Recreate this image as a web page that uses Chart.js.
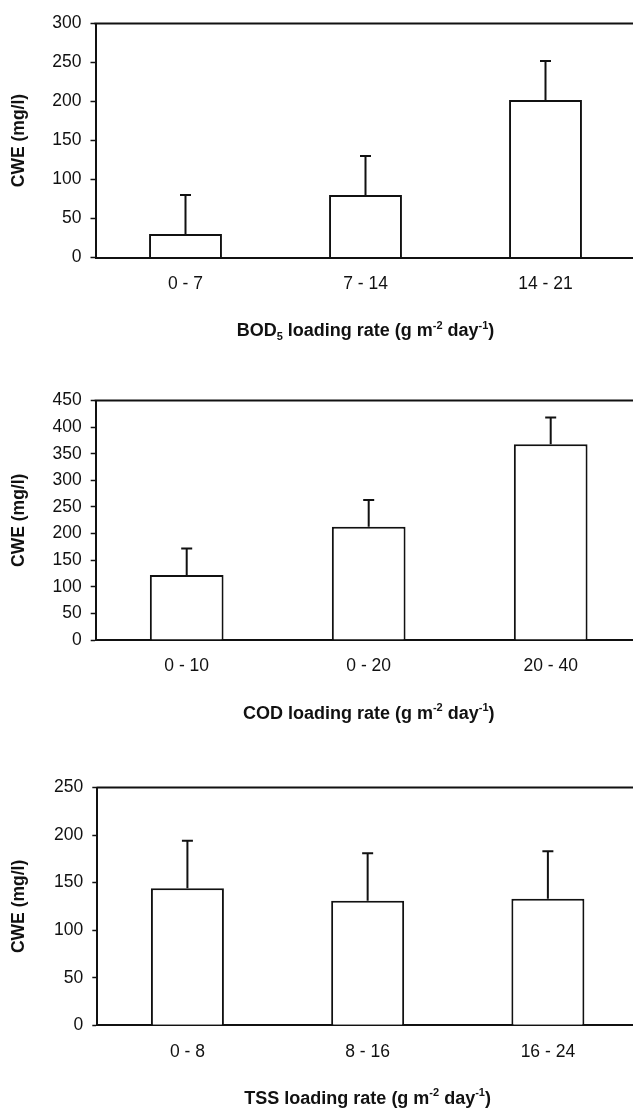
<!DOCTYPE html>
<html>
<head>
<meta charset="utf-8">
<title>CWE vs loading rate</title>
<script src="https://cdn.jsdelivr.net/npm/chart.js@4.4.1/dist/chart.umd.min.js"></script>
<style>
  html, body { margin: 0; padding: 0; background: #fff; }
  body { width: 633px; height: 1110px; position: relative; overflow: hidden; }
  canvas { position: absolute; left: 0; }
</style>
</head>
<body>
<canvas id="bod-chart"></canvas>
<canvas id="cod-chart"></canvas>
<canvas id="tss-chart"></canvas>
<script>
// Mean CWE for each loading-rate class, with the standard deviation drawn upward
const bodLabels = ['0 - 7', '7 - 14', '14 - 21'];
const bodMeans = [30, 80, 202];
const bodErrors = [50, 50, 50];

const codLabels = ['0 - 10', '0 - 20', '20 - 40'];
const codMeans = [122, 213, 368];
const codErrors = [50, 50, 50];

const tssLabels = ['0 - 8', '8 - 16', '16 - 24'];
const tssMeans = [144, 131, 133];
const tssErrors = [50, 50, 50];

const yTitle = 'CWE (mg/l)';
const yStep = 50;
const bodMax = 300;
const codMax = 450;
const tssMax = 250;

// x titles split into runs: [text, shift] with shift '', 'sub' or 'sup'
const bodTitle = [['BOD', ''], ['5', 'sub'], [' loading rate (g m', ''], ['-2', 'sup'], [' day', ''], ['-1', 'sup'], [')', '']];
const codTitle = [['COD loading rate (g m', ''], ['-2', 'sup'], [' day', ''], ['-1', 'sup'], [')', '']];
const tssTitle = [['TSS loading rate (g m', ''], ['-2', 'sup'], [' day', ''], ['-1', 'sup'], [')', '']];

const INK = '#111';
const FAMILY = "'Liberation Sans', Arial, sans-serif";

// upward error whiskers with a short cap
const errorBars = {
    id: 'errorBars',
    afterDatasetsDraw(chart, args, opts) {
        const ctx = chart.ctx;
        const y = chart.scales.y;
        const meta = chart.getDatasetMeta(0);
        const values = chart.data.datasets[0].data;
        ctx.save();
        ctx.strokeStyle = INK;
        ctx.lineWidth = 2;
        meta.data.forEach((bar, i) => {
            const base = y.getPixelForValue(values[i]);
            const top = y.getPixelForValue(values[i] + opts.errors[i]);
            ctx.beginPath();
            ctx.moveTo(bar.x, base);
            ctx.lineTo(bar.x, top);
            ctx.moveTo(bar.x - 5.5, top);
            ctx.lineTo(bar.x + 5.5, top);
            ctx.stroke();
        });
        ctx.restore();
    }
};

// top edge of the plot frame (left and bottom come from the axis borders)
const frameTop = {
    id: 'frameTop',
    afterDraw(chart) {
        const {ctx, chartArea} = chart;
        ctx.save();
        ctx.strokeStyle = INK;
        ctx.lineWidth = 2;
        ctx.beginPath();
        ctx.moveTo(chartArea.left - 1, chartArea.top);
        ctx.lineTo(chartArea.right + 10, chartArea.top);
        ctx.stroke();
        ctx.restore();
    }
};

// x axis title with sub- and superscripts
const richTitle = {
    id: 'richTitle',
    afterDraw(chart, args, opts) {
        const {ctx, chartArea} = chart;
        const mainFont = 'bold 18px ' + FAMILY;
        const smallFont = 'bold 11px ' + FAMILY;
        ctx.save();
        ctx.fillStyle = INK;
        ctx.textBaseline = 'middle';
        ctx.textAlign = 'left';
        let total = 0;
        opts.parts.forEach(([text, shift]) => {
            ctx.font = shift ? smallFont : mainFont;
            total += ctx.measureText(text).width;
        });
        const cy = chartArea.bottom + opts.offset;
        let x = (chartArea.left + chartArea.right) / 2 - total / 2;
        opts.parts.forEach(([text, shift]) => {
            ctx.font = shift ? smallFont : mainFont;
            let dy = 0;
            if (shift === 'sub') dy = 5;
            if (shift === 'sup') dy = -6;
            ctx.fillText(text, x, cy + dy);
            x += ctx.measureText(text).width;
        });
        ctx.restore();
    }
};

function renderPanel(id, labels, means, errors, yMax, titleParts, box) {
    const canvas = document.getElementById(id);
    const canvasTop = Math.floor(box.top - 15);
    const padTop = box.top - canvasTop;
    const width = 650;
    const height = Math.ceil(padTop + (box.bottom - box.top) + 92);
    canvas.width = width;
    canvas.height = height;
    canvas.style.width = width + 'px';
    canvas.style.height = height + 'px';
    canvas.style.top = canvasTop + 'px';
    const xHeight = height - padTop - (box.bottom - box.top);

    return new Chart(canvas.getContext('2d'), {
        type: 'bar',
        data: {
            labels: labels,
            datasets: [{
                data: means,
                backgroundColor: '#fff',
                borderColor: INK,
                borderWidth: 2,
                borderSkipped: 'start',
                barPercentage: 0.405,
                categoryPercentage: 1,
            }],
        },
        options: {
            responsive: false,
            animation: false,
            devicePixelRatio: 1,
            layout: {
                padding: { top: padTop, right: width - box.right, left: 0, bottom: 0 },
            },
            plugins: {
                legend: { display: false },
                tooltip: { enabled: false },
                errorBars: { errors: errors },
                richTitle: { parts: titleParts, offset: 74 },
            },
            scales: {
                x: {
                    grid: { display: false, drawTicks: false },
                    border: { display: true, color: INK, width: 2 },
                    ticks: {
                        color: INK,
                        padding: 16,
                        font: { family: FAMILY, size: 17.5 },
                    },
                    afterFit(scale) { scale.height = xHeight; },
                },
                y: {
                    min: 0,
                    max: yMax,
                    grid: {
                        drawOnChartArea: false,
                        drawTicks: true,
                        tickLength: 5,
                        tickColor: INK,
                        tickWidth: 1.5,
                    },
                    border: { display: true, color: INK, width: 2 },
                    ticks: {
                        stepSize: yStep,
                        color: INK,
                        padding: 9,
                        font: { family: FAMILY, size: 17.5 },
                    },
                    title: {
                        display: true,
                        text: yTitle,
                        color: INK,
                        padding: { top: 8.5, bottom: 0 },
                        font: { family: FAMILY, size: 17.5, weight: 'bold' },
                    },
                    afterFit(scale) { scale.width = box.left; },
                },
            },
        },
        plugins: [errorBars, frameTop, richTitle],
    });
}

renderPanel('bod-chart', bodLabels, bodMeans, bodErrors, bodMax, bodTitle,
    { left: 95.5, top: 19, bottom: 257.5, right: 635.5 });
renderPanel('cod-chart', codLabels, codMeans, codErrors, codMax, codTitle,
    { left: 95.7, top: 396, bottom: 640, right: 641.7 });
renderPanel('tss-chart', tssLabels, tssMeans, tssErrors, tssMax, tssTitle,
    { left: 97.3, top: 783.3, bottom: 1025.3, right: 638 });
</script>
</body>
</html>
